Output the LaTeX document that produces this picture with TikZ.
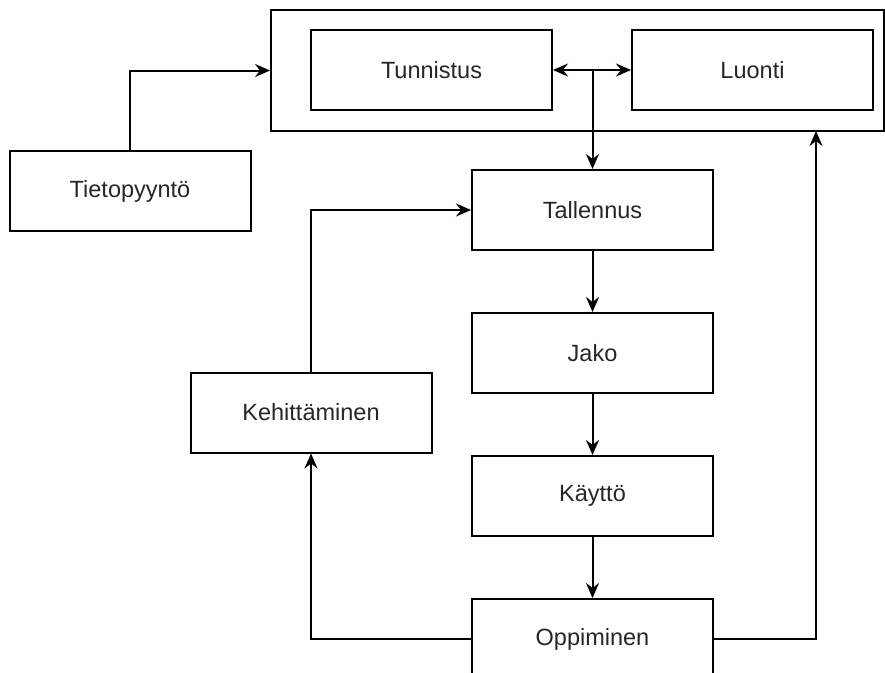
\documentclass[tikz,border=0pt]{standalone}
\usepackage{fontspec}
\setmainfont{Liberation Sans}
\usetikzlibrary{arrows.meta,positioning}

\begin{document}
\begin{tikzpicture}[x=1pt, y=-1pt, line width=2pt, >={Stealth[length=15pt, width=13pt, inset=5pt]},
                    vaihe/.style={draw, rectangle, minimum width=241pt, minimum height=80pt, inner sep=0pt,
                                  font=\fontsize{23.5}{28}\selectfont, text=black!85},
                    yhteys/.style={->, line width=2pt},
                    node distance=61pt]
    \useasboundingbox (0,0) rectangle (885,672);
    \clip (0,0) rectangle (885,672);
    % ryhma ylhaalla
    \node[draw, rectangle, minimum width=613pt, minimum height=121pt, inner sep=0pt] (ryhma) at (577.5,70.5) {};
    \node[vaihe] (tunnistus) at (431.5,70) {Tunnistus};
    \node[vaihe] (luonti) at (752.5,70) {Luonti};
    \node[vaihe] (tieto) at (130,191) {Tietopyyntö};
    % ketju
    \node[vaihe] (tallennus) at (592.5,210) {Tallennus};
    \node[vaihe, below=of tallennus] (jako) {Jako};
    \node[vaihe, below=of jako] (kaytto) {Käyttö};
    \node[vaihe, below=of kaytto] (oppiminen) {Oppiminen};
    \node[vaihe] (kehitys) at (311,412.5) {Kehittäminen};
    \coordinate (haara) at (tallennus.north |- tunnistus.east);
    \coordinate (paluu) at (816,131);
    % nuolet
    \draw[yhteys] (tieto.north) |- (ryhma.west);
    \draw[yhteys, <->] (tunnistus.east) -- (luonti.west);
    \draw[yhteys] (haara) -- (tallennus.north);
    \draw[yhteys] (tallennus) -- (jako);
    \draw[yhteys] (jako) -- (kaytto);
    \draw[yhteys] (kaytto) -- (oppiminen);
    \draw[yhteys] (oppiminen.west) -| (kehitys.south);
    \draw[yhteys] (kehitys.north) |- (tallennus.west);
    \draw[yhteys] (oppiminen.east) -| (paluu);
\end{tikzpicture}
\end{document}
